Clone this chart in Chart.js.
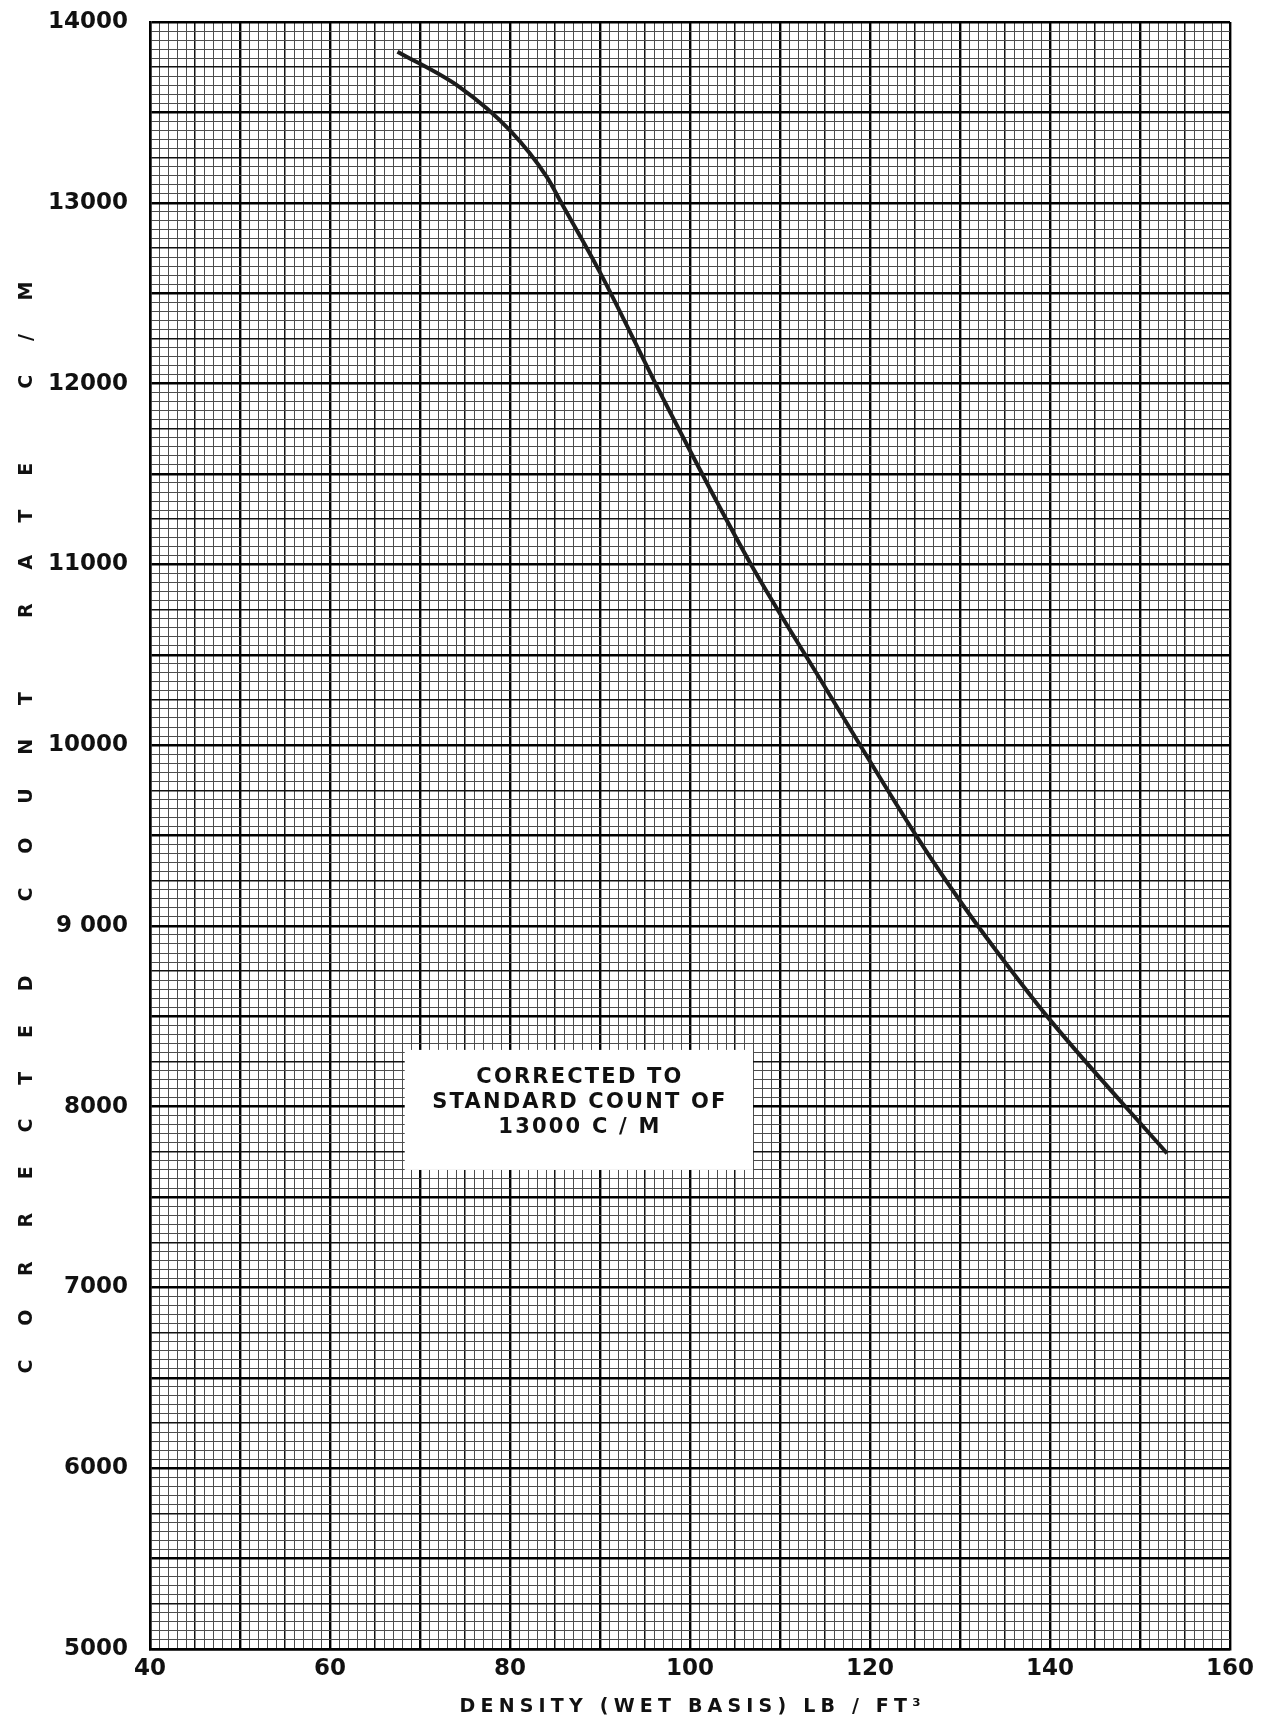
<!DOCTYPE html>
<html><head><meta charset="utf-8">
<script src="https://cdn.jsdelivr.net/npm/chart.js@4.4.1/dist/chart.umd.min.js"></script>
<style>html,body{margin:0;padding:0;background:#fff}canvas{display:block}</style>
</head><body>
<canvas id="c" width="1272" height="1722"></canvas>
<script>
// ---- data ----
const densities  = [67.5, 74.4, 80.0, 84.1, 85.7, 90.0, 97.0, 106.7, 114.4, 125.2, 130.4, 133.7, 140.0, 153.0];
const countRates = [13836, 13640, 13400, 13142, 13000, 12615, 11918, 11006, 10370, 9494, 9110, 8885, 8480, 7742];
const xTickValues = [40, 60, 80, 100, 120, 140, 160];
const xTickLabels = ['40', '60', '80', '100', '120', '140', '160'];
const yTickValues = [5000, 6000, 7000, 8000, 9000, 10000, 11000, 12000, 13000, 14000];
const yTickLabels = ['5000', '6000', '7000', '8000', '9 000', '10000', '11000', '12000', '13000', '14000'];
const xTitle = 'DENSITY (WET BASIS) LB / FT³';
const yTitle = 'CORRECTED COUNT RATE C/M';
const noteLines = ['CORRECTED TO', 'STANDARD COUNT OF', '13000 C / M'];

// ---- styling / placement (not data) ----
const FONT = "'DejaVu Sans', 'Liberation Sans', sans-serif";
const noteBox = { x0: 68.3, x1: 107.0, y0: 8314, y1: 7650 };

function gridStyle(v, majorStep, midStep) {
  if (Math.abs(v % majorStep) < 1e-6) return { c: '#000', w: 2.4 };
  if (Math.abs(v % midStep) < 1e-6) return { c: '#111', w: 1.5 };
  return { c: '#4d4d4d', w: 1 };
}

function spacedFit(ctx, text, cx, cy, targetWidth) {
  ctx.letterSpacing = '0px';
  const w0 = ctx.measureText(text).width;
  const n = [...text].length;
  const sp = (targetWidth - w0) / (n - 1);
  ctx.letterSpacing = sp + 'px';
  ctx.textAlign = 'left';
  ctx.textBaseline = 'middle';
  ctx.fillText(text, cx - targetWidth / 2, cy);
}
function spaced(ctx, text, cx, cy, sp) {
  ctx.letterSpacing = '0px';
  const w0 = ctx.measureText(text).width;
  const n = [...text].length;
  const total = w0 + sp * (n - 1);
  ctx.letterSpacing = sp + 'px';
  ctx.textAlign = 'left';
  ctx.textBaseline = 'middle';
  ctx.fillText(text, cx - total / 2, cy);
}

const paperText = {
  id: 'paperText',
  afterDatasetsDraw(chart) {
    const { ctx, scales: { x, y } } = chart;
    const l = x.getPixelForValue(noteBox.x0), r = x.getPixelForValue(noteBox.x1);
    const t = y.getPixelForValue(noteBox.y0), b = y.getPixelForValue(noteBox.y1);
    ctx.save();
    ctx.fillStyle = '#fff';
    ctx.fillRect(l, t, r - l, b - t);
    ctx.fillStyle = '#111';
    ctx.font = `bold 21px ${FONT}`;
    const cx = (l + r) / 2, cy = (t + b) / 2 - 7;
    noteLines.forEach((s, i) => spaced(ctx, s, cx, cy + (i - 1) * 25, 2.2));
    ctx.restore();
  },
  afterDraw(chart) {
    const { ctx } = chart;
    ctx.save();
    ctx.fillStyle = '#111';
    ctx.font = `bold 19px ${FONT}`;
    spacedFit(ctx, xTitle, 690, 1707, 461);
    ctx.translate(27, 827.5);
    ctx.rotate(-Math.PI / 2);
    ctx.font = `bold 19px ${FONT}`;
    spacedFit(ctx, yTitle, 0, 0, 1092);
    ctx.restore();
  }
};

new Chart(document.getElementById('c'), {
  type: 'line',
  data: {
    datasets: [{
      data: densities.map((d, i) => ({ x: d, y: countRates[i] })),
      borderColor: '#1c1c1c',
      borderWidth: 4,
      pointRadius: 0,
      fill: false,
      cubicInterpolationMode: 'monotone'
    }]
  },
  options: {
    responsive: false,
    animation: false,
    layout: { padding: { top: 22, right: 42, left: 0, bottom: 0 } },
    plugins: { legend: { display: false }, tooltip: { enabled: false } },
    scales: {
      x: {
        type: 'linear', min: 40, max: 160,
        afterFit: s => { s.height = 73; s.paddingLeft = 0; s.paddingRight = 0; },
        ticks: {
          stepSize: 1, autoSkip: false, maxRotation: 0, padding: 6,
          color: '#111', font: { family: FONT, size: 23, weight: 'bold' },
          callback: v => { const i = xTickValues.indexOf(v); return i >= 0 ? xTickLabels[i] : ''; }
        },
        grid: {
          drawTicks: false,
          color: c => gridStyle(c.tick.value, 10, 5).c,
          lineWidth: c => gridStyle(c.tick.value, 10, 5).w
        },
        border: { color: '#000', width: 2.5 }
      },
      y: {
        type: 'linear', min: 5000, max: 14000,
        afterFit: s => { s.width = 150; s.paddingTop = 0; s.paddingBottom = 0; },
        ticks: {
          stepSize: 50, autoSkip: false, padding: 22,
          color: '#111', font: { family: FONT, size: 23, weight: 'bold' },
          callback: v => { const i = yTickValues.indexOf(v); return i >= 0 ? yTickLabels[i] : ''; }
        },
        grid: {
          drawTicks: false,
          color: c => gridStyle(c.tick.value, 500, 250).c,
          lineWidth: c => gridStyle(c.tick.value, 500, 250).w
        },
        border: { color: '#000', width: 2.5 }
      }
    }
  },
  plugins: [paperText]
});
</script>
</body></html>
